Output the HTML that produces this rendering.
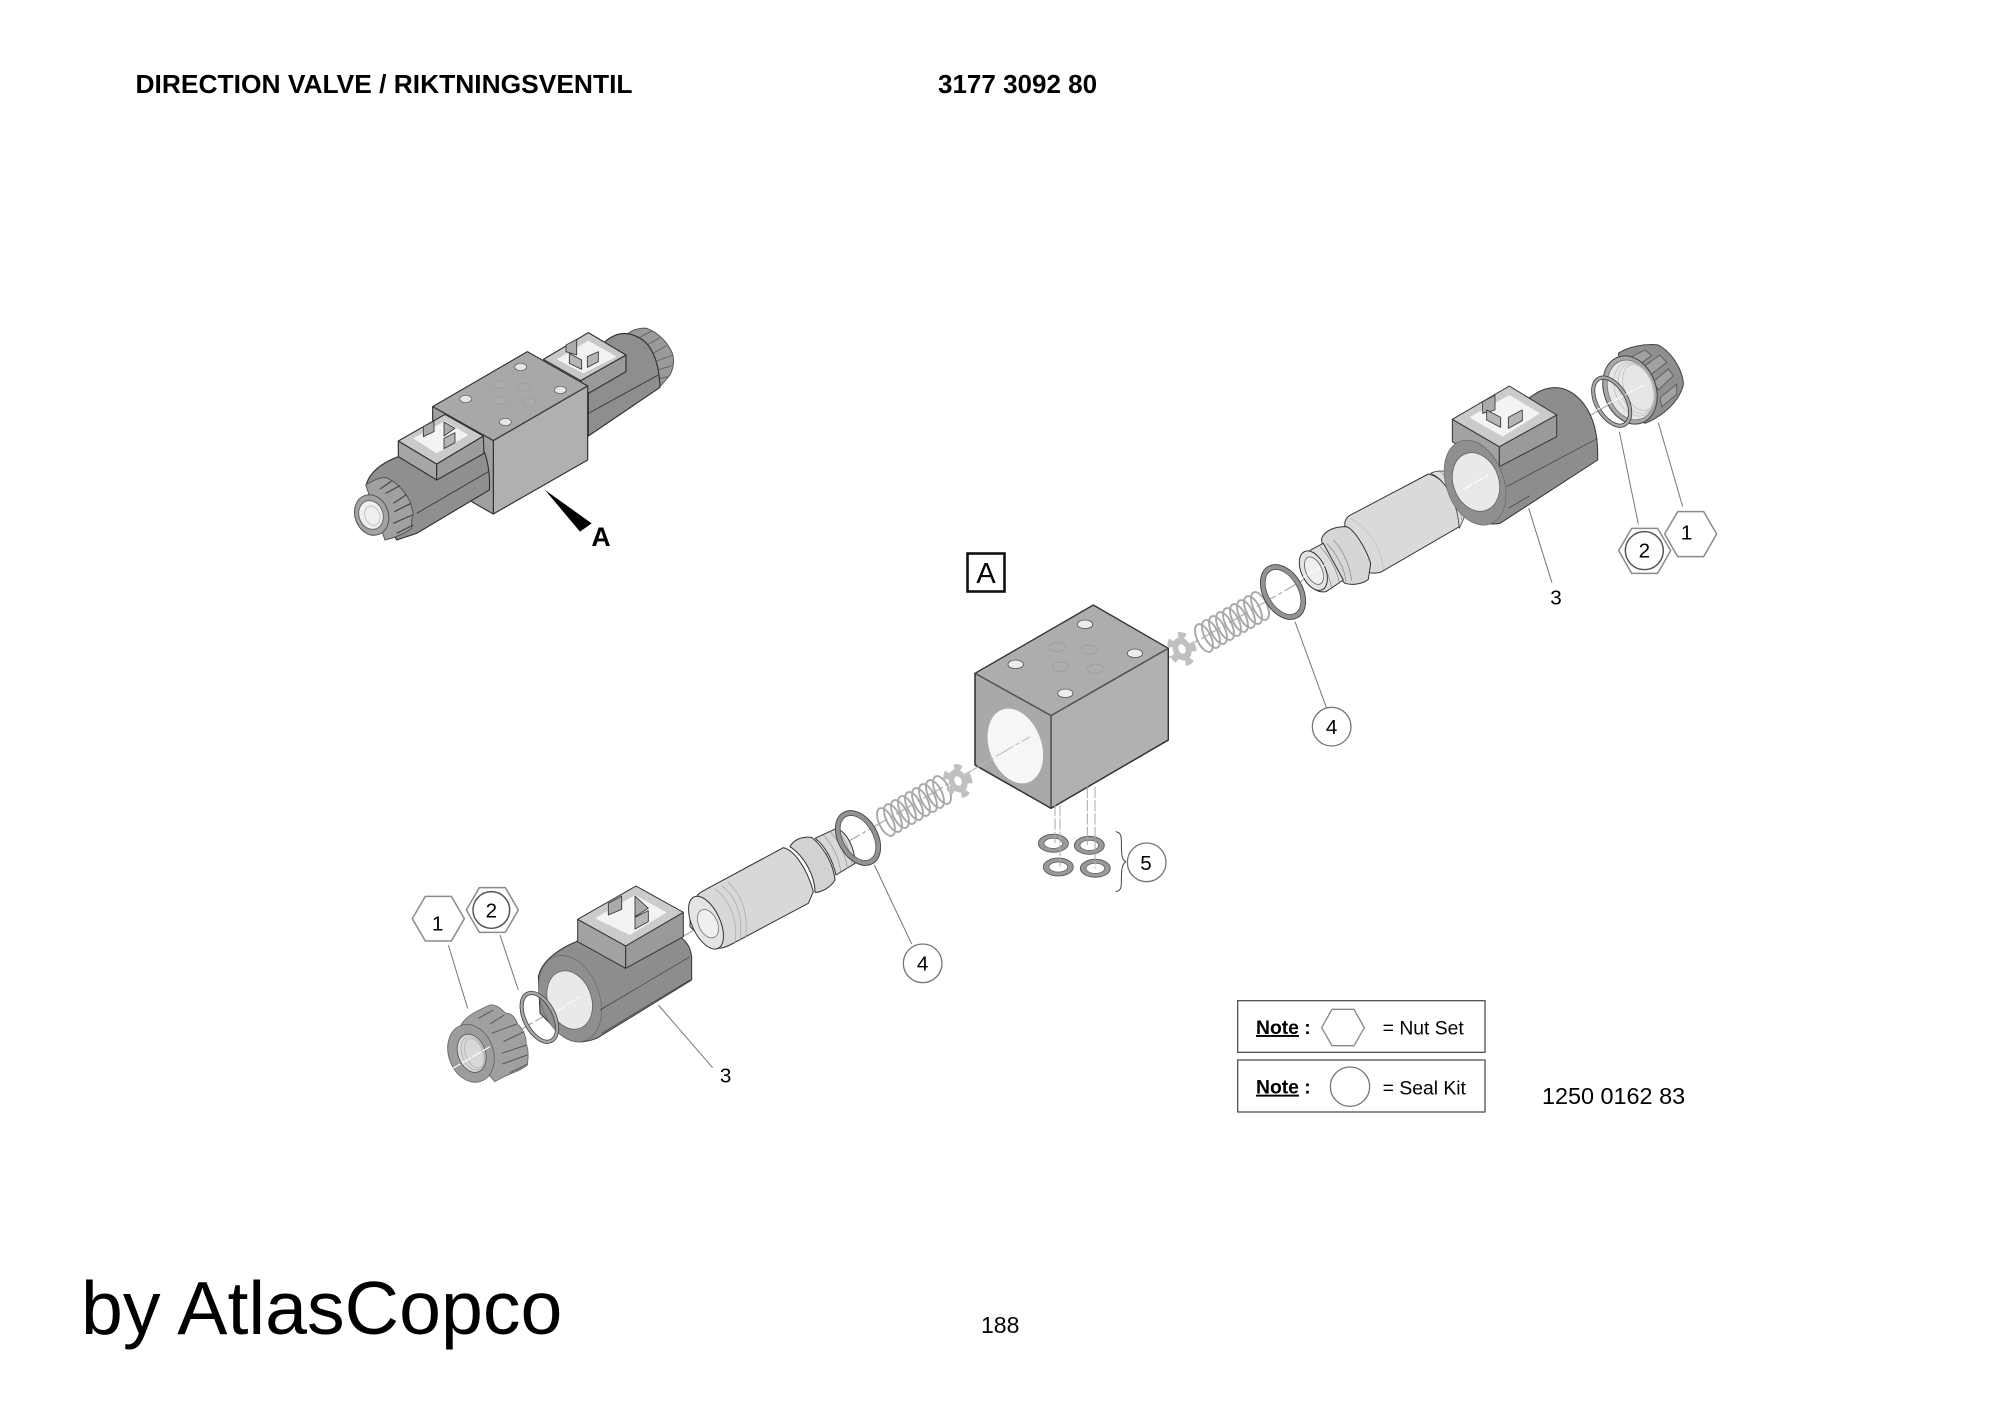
<!DOCTYPE html>
<html><head><meta charset="utf-8"><style>
html,body{margin:0;padding:0;background:#fff}
svg{display:block}
text{font-family:"Liberation Sans",sans-serif;fill:#000}
</style></head><body>
<svg width="2000" height="1414" viewBox="0 0 2000 1414" xmlns="http://www.w3.org/2000/svg">
<defs>
<g id="spring" fill="none" stroke="#a8a8a8" stroke-width="1.9">
<ellipse rx="7" ry="15" transform="translate(-28,16) rotate(-25)"/>
<ellipse rx="7" ry="15" transform="translate(-21,12) rotate(-25)"/>
<ellipse rx="7" ry="15" transform="translate(-14,8) rotate(-25)"/>
<ellipse rx="7" ry="15" transform="translate(-7,4) rotate(-25)"/>
<ellipse rx="7" ry="15" transform="rotate(-25)"/>
<ellipse rx="7" ry="15" transform="translate(7,-4) rotate(-25)"/>
<ellipse rx="7" ry="15" transform="translate(14,-8) rotate(-25)"/>
<ellipse rx="7" ry="15" transform="translate(21,-12) rotate(-25)"/>
<ellipse rx="7" ry="15" transform="translate(28,-16) rotate(-25)"/>
</g>
<g id="star">
<ellipse rx="9" ry="12" fill="#c0c0c0" transform="rotate(-25)"/>
<ellipse rx="10.5" ry="14" fill="none" stroke="#c0c0c0" stroke-width="7" stroke-dasharray="7 8" transform="rotate(-25)"/>
<ellipse rx="3.5" ry="5" fill="#fff" transform="rotate(-25)"/>
</g>
<g id="ring4">
<ellipse rx="17.5" ry="27" fill="none" stroke="#929292" stroke-width="5" transform="rotate(-30)"/>
<ellipse rx="19.8" ry="29.5" fill="none" stroke="#444" stroke-width=".9" transform="rotate(-30)"/>
<ellipse rx="15" ry="24.5" fill="none" stroke="#555" stroke-width=".8" transform="rotate(-30)"/>
</g>
</defs>

<!-- text -->
<text x="135.5" y="93" font-size="26" font-weight="bold" textLength="497" lengthAdjust="spacingAndGlyphs">DIRECTION VALVE / RIKTNINGSVENTIL</text>
<text x="938" y="93" font-size="26" font-weight="bold">3177 3092 80</text>
<text x="81" y="1334" font-size="75.3">by AtlasCopco</text>
<text x="986" y="1333" font-size="23" transform="translate(-5,0)">188</text>
<text x="1542" y="1104" font-size="23.4">1250 0162 83</text>

<!-- axis -->
<line x1="452" y1="1069" x2="1643" y2="385" stroke="#aaa" stroke-width="1.2" stroke-dasharray="22 3 4 3"/>

<!-- rear nut of assembled valve -->
<g transform="translate(625,325) scale(.33333)" stroke="#555" stroke-width="3">
<path d="M10,25C25,12 50,8 65,10C100,22 130,55 142,85C150,110 145,130 135,150L105,185Z" fill="#9a9a9a"/>
<path d="M42,38L80,18M62,62L105,38M78,88L125,62M88,110L140,92M98,135L140,122M103,160L130,155" fill="none" stroke="#666" stroke-width="3"/>
</g>

<!-- assembled valve -->
<g transform="translate(330,310) scale(.33333)" stroke="#333" stroke-width="3.5" stroke-linejoin="round">
<path d="M825,95C860,65 900,60 945,95C975,125 988,170 990,232L775,378V250Z" fill="#8e8e8e"/>
<line x1="775" y1="310" x2="985" y2="195" stroke-width="2.5"/>
<polygon points="888,135 888,185 775,250 752,212" fill="#9a9a9a"/>
<polygon points="640,148 775,68 888,135 752,212" fill="#c8c8c8"/>
<polygon points="680,148 775,92 860,140 760,190" fill="#f2f2f2" stroke="none"/>
<path d="M708,105L740,88V135L708,125Z" fill="#aaa" stroke-width="2.5"/>
<path d="M718,130L755,150V178L718,160Z" fill="#b5b5b5" stroke-width="2.5"/>
<path d="M772,140L805,125V155L772,172Z" fill="#b5b5b5" stroke-width="2.5"/>
<polygon points="308,290 592,125 773,228 490,392" fill="#a8a8a8"/>
<polygon points="490,392 773,228 773,450 490,612" fill="#b0b0b0"/>
<polygon points="308,290 490,392 490,612 430,578 308,500" fill="#a0a0a0"/>
<g stroke="#999" stroke-width="2" fill="#aaa">
<ellipse cx="507" cy="223" rx="19" ry="12"/><ellipse cx="583" cy="232" rx="19" ry="12"/>
<ellipse cx="514" cy="271" rx="19" ry="12"/><ellipse cx="598" cy="278" rx="19" ry="12"/></g>
<g stroke="#555" stroke-width="2" fill="#e6e6e6">
<ellipse cx="572" cy="171" rx="18" ry="11"/><ellipse cx="407" cy="267" rx="18" ry="11"/>
<ellipse cx="691" cy="240" rx="18" ry="11"/><ellipse cx="526" cy="336" rx="18" ry="11"/></g>
<path d="M205,440C150,460 120,490 110,520L200,690L260,670L478,540C482,490 470,440 460,420L320,420Z" fill="#8f8f8f"/>
<line x1="260" y1="610" x2="475" y2="485" stroke-width="2.5"/>
<polygon points="205,393 205,440 320,510 320,462" fill="#a6a6a6"/>
<polygon points="320,462 320,510 462,430 460,378" fill="#9c9c9c"/>
<polygon points="205,393 345,313 460,378 320,462" fill="#cacaca"/>
<polygon points="250,385 345,333 415,375 320,430" fill="#f3f3f3" stroke="none"/>
<path d="M280,350L312,333V365L280,380Z" fill="#aaa" stroke-width="2.5"/>
<path d="M342,336L375,355L342,378V355Z" fill="#aaa" stroke-width="2.5"/>
<path d="M342,385L375,368V398L342,416Z" fill="#b5b5b5" stroke-width="2.5"/>
<polygon points="645,540 785,640 750,665" fill="#000" stroke="none"/>
<text x="813" y="708" font-size="80" font-weight="bold" text-anchor="middle" stroke="none">A</text>
</g>
<!-- front nut of assembled valve -->
<g transform="translate(345,465) scale(.33333)" stroke="#555" stroke-width="3">
<path d="M62,60C85,45 110,35 125,38C150,50 175,70 195,110L205,145L200,165V190C180,205 150,218 120,225Z" fill="#a0a0a0"/>
<path d="M105,72L140,48M122,85L165,62M145,115L185,88M148,140L198,115M145,175L202,150M155,205L205,180" fill="none" stroke="#444" stroke-width="3.5"/>
<ellipse cx="80" cy="150" rx="50" ry="62" transform="rotate(-20 80 150)" fill="#a2a2a2"/>
<ellipse cx="78" cy="150" rx="36" ry="44" transform="rotate(-20 78 150)" fill="#efefef" stroke="#666"/>
<ellipse cx="82" cy="152" rx="22" ry="30" transform="rotate(-20 82 152)" fill="none" stroke="#bbb" stroke-width="2.5"/>
</g>

<!-- A box -->
<rect x="967.5" y="553.5" width="37" height="38" fill="none" stroke="#111" stroke-width="2.6"/>
<text x="986" y="583" font-size="29" text-anchor="middle">A</text>

<!-- main block -->
<g transform="translate(950,540) scale(.33333)" stroke="#333" stroke-width="4" stroke-linejoin="round">
<polygon points="75,400 430,195 655,325 303,527" fill="#adadad"/>
<polygon points="303,527 655,325 655,600 303,805" fill="#b1b1b1"/>
<polygon points="75,400 303,527 303,805 75,675" fill="#a9a9a9"/>
<line x1="75" y1="400" x2="303" y2="527" stroke="#666" stroke-width="2"/>
<line x1="303" y1="527" x2="655" y2="325" stroke="#666" stroke-width="2"/>
<line x1="303" y1="527" x2="303" y2="805" stroke="#666" stroke-width="2"/>
<ellipse cx="196" cy="618" rx="78" ry="116" transform="rotate(-20 196 618)" fill="#f6f6f6" stroke="none"/>
<path d="M75,675L303,805L655,600V325" fill="none"/>
<line x1="75" y1="400" x2="75" y2="675"/>
<line x1="60" y1="695" x2="240" y2="590" stroke="#bbb" stroke-width="3" stroke-dasharray="60 8 14 8"/>
<g stroke="#999" stroke-width="2" fill="none">
<ellipse cx="322" cy="321" rx="24" ry="14"/><ellipse cx="418" cy="329" rx="24" ry="14"/>
<ellipse cx="331" cy="380" rx="24" ry="14"/><ellipse cx="436" cy="386" rx="24" ry="14"/></g>
<g stroke="#555" stroke-width="2.5" fill="#ececec">
<ellipse cx="405" cy="253" rx="23" ry="13"/><ellipse cx="197" cy="373" rx="23" ry="13"/>
<ellipse cx="555" cy="340" rx="23" ry="13"/><ellipse cx="346" cy="460" rx="23" ry="13"/></g>
<line x1="1035" y1="245" x2="1130" y2="505" stroke="#777" stroke-width="3"/>
<circle cx="1145" cy="560" r="58" fill="#fff" stroke="#777" stroke-width="4"/>
<text x="1145" y="582" font-size="62" text-anchor="middle" stroke="none">4</text>
</g>

<use href="#spring" x="1232" y="622"/>
<use href="#star" x="1182" y="649"/>
<use href="#ring4" x="1283" y="592"/>
<use href="#spring" x="914" y="806"/>
<use href="#star" x="958" y="781"/>

<!-- right nut -->
<g transform="translate(1595,335) scale(.33333)" stroke="#444" stroke-width="3">
<path d="M70,55C100,35 150,25 190,30C235,55 265,110 265,150C250,205 200,245 150,265L100,240Z" fill="#8f8f8f"/>
<path d="M110,65L150,45L170,62L130,90ZM150,92L195,60L215,82L170,117ZM175,140L220,102L235,122L190,165ZM195,188L245,148V178L200,215Z" fill="#a2a2a2" stroke="#555" stroke-width="2.5"/>
<ellipse cx="105" cy="165" rx="78" ry="105" transform="rotate(-20 105 165)" fill="#a8a8a8"/>
<ellipse cx="108" cy="165" rx="68" ry="92" transform="rotate(-20 108 165)" fill="#e6e6e6" stroke="#777" stroke-width="2.5"/>
<g fill="none" stroke="#bbb" stroke-width="2">
<ellipse cx="118" cy="162" rx="58" ry="84" transform="rotate(-20 118 162)"/>
<ellipse cx="124" cy="160" rx="50" ry="78" transform="rotate(-20 124 160)"/>
<ellipse cx="130" cy="158" rx="42" ry="72" transform="rotate(-20 130 158)"/>
</g>
</g>

<!-- right side parts -->
<g transform="translate(1300,330) scale(.33333)" stroke="#333" stroke-width="3" stroke-linejoin="round">
<path d="M135,575C140,560 150,555 165,548L385,432C430,440 470,500 478,590L245,725C235,730 215,730 210,728C170,700 130,630 135,575Z" fill="#dadada"/>
<path d="M392,430C410,420 440,422 455,430C480,450 500,500 498,550L478,595C470,500 430,445 392,430Z" fill="#dedede" stroke="#444" stroke-width="2.5"/>
<path d="M420,425C450,450 475,500 485,570" fill="none" stroke="#999" stroke-width="2"/>
<path d="M150,565C200,590 245,650 250,720" fill="none" stroke="#bbb" stroke-width="2"/>
<path d="M65,625C75,600 105,590 140,590C165,600 200,660 212,700L205,748C185,765 150,765 135,760C100,730 65,670 65,625Z" fill="#d6d6d6"/>
<path d="M5,690C10,670 30,660 70,640L130,750L78,785C50,790 30,770 20,750Z" fill="#dedede"/>
<path d="M60,650C90,680 115,730 118,762M80,640C110,670 135,720 138,755M40,665C70,690 90,740 95,778M100,630C130,660 150,710 155,752" stroke="#888" stroke-width="2.2" fill="none"/>
<ellipse cx="40" cy="722" rx="36" ry="63" transform="rotate(-25 40 722)" fill="#e4e4e4"/>
<ellipse cx="42" cy="722" rx="24" ry="44" transform="rotate(-25 42 722)" fill="#efefef" stroke="#666" stroke-width="2.5"/>
<line x1="0" y1="747" x2="75" y2="705" stroke="#fff" stroke-width="3" stroke-dasharray="20 5"/>
<path d="M700,195C750,160 805,165 850,220C880,260 895,310 893,390L600,580C540,590 500,560 490,520L440,420L490,332Z" fill="#8d8d8d"/>
<polygon points="457,268 457,335 598,420 598,350" fill="#a2a2a2"/>
<polygon points="598,350 770,255 770,320 598,410" fill="#9a9a9a"/>
<polygon points="457,268 628,168 770,255 598,350" fill="#cbcbcb"/>
<polygon points="508,262 628,195 720,250 608,320" fill="#f3f3f3" stroke="none"/>
<path d="M548,215L585,195V240L548,250Z" fill="#aaa" stroke-width="2.5"/>
<path d="M560,240L602,262V292L560,270Z" fill="#b5b5b5" stroke-width="2.5"/>
<path d="M625,262L667,240V272L625,295Z" fill="#b5b5b5" stroke-width="2.5"/>
<ellipse cx="525" cy="458" rx="86" ry="132" transform="rotate(-20 525 458)" fill="#8f8f8f" stroke="#666" stroke-width="2"/>
<ellipse cx="528" cy="456" rx="68" ry="90" transform="rotate(-20 528 456)" fill="#e9e9e9" stroke="#555" stroke-width="2"/>
<path d="M620,470L893,325M625,535L690,497" stroke="#444" stroke-width="2.2" fill="none"/>
<line x1="490" y1="478" x2="565" y2="435" stroke="#fff" stroke-width="3" stroke-dasharray="30 6"/>
<ellipse cx="935" cy="215" rx="45" ry="79" transform="rotate(-30 935 215)" fill="none" stroke="#a8a8a8" stroke-width="10"/>
<ellipse cx="935" cy="215" rx="50" ry="84" transform="rotate(-30 935 215)" fill="none" stroke="#444" stroke-width="2.5"/>
<ellipse cx="935" cy="215" rx="40" ry="74" transform="rotate(-30 935 215)" fill="none" stroke="#444" stroke-width="2.5"/>
<line x1="880" y1="245" x2="1030" y2="165" stroke="#fff" stroke-width="3" stroke-dasharray="30 6"/>
<g stroke="#777" stroke-width="3" fill="none">
<line x1="686" y1="535" x2="756" y2="758"/>
<line x1="958" y1="305" x2="1015" y2="582"/>
<line x1="1075" y1="278" x2="1148" y2="530"/>
</g>
<g fill="#fff" stroke="#8a8a8a" stroke-width="4.5">
<polygon points="1094,612 1133,545 1211,545 1250,612 1211,680 1133,680"/>
<polygon points="956,662 995,595 1073,595 1112,662 1073,730 995,730"/>
<circle cx="1033" cy="662" r="57" stroke="#555"/>
</g>
<g font-size="62" text-anchor="middle" stroke="none">
<text x="1160" y="629">1</text><text x="1033" y="682">2</text><text x="768" y="823">3</text>
</g>
</g>

<!-- left cylinder, ring, washers -->
<g transform="translate(680,740) scale(.33333)" stroke="#333" stroke-width="3" stroke-linejoin="round">
<path d="M405,295L470,265C505,280 525,330 525,370L468,405C460,370 440,320 405,295Z" fill="#d8d8d8"/>
<path d="M430,285C455,310 478,355 482,395M450,275C475,300 498,345 502,385M470,268C495,295 512,335 516,372" stroke="#999" stroke-width="2.2" fill="none"/>
<path d="M330,320C340,300 365,288 395,292C430,320 460,370 465,420C450,445 420,458 405,457C405,410 375,350 330,320Z" fill="#d2d2d2"/>
<path d="M65,455L310,323C340,330 380,380 400,455L385,490L150,615C120,630 100,625 95,620L30,560C30,510 40,470 65,455Z" fill="#d8d8d8"/>
<path d="M105,447C150,480 175,540 165,610M125,437C170,470 190,530 180,603M143,427C185,460 205,520 197,595" stroke="#aaa" stroke-width="2.2" fill="none"/>
<ellipse cx="78" cy="548" rx="42" ry="85" transform="rotate(-25 78 548)" fill="#e4e4e4"/>
<ellipse cx="84" cy="551" rx="28" ry="45" transform="rotate(-25 84 551)" fill="#efefef" stroke="#666" stroke-width="2.2"/>
<line x1="583" y1="375" x2="695" y2="612" stroke="#777" stroke-width="3"/>
<circle cx="728" cy="670" r="58" fill="#fff" stroke="#777" stroke-width="4"/>
<text x="728" y="692" font-size="62" text-anchor="middle" stroke="none">4</text>
<g stroke="#555" stroke-width="2.5" fill="#999">
<ellipse cx="1120" cy="310" rx="45" ry="27"/><ellipse cx="1228" cy="316" rx="45" ry="27"/>
<ellipse cx="1135" cy="381" rx="45" ry="27"/><ellipse cx="1246" cy="385" rx="45" ry="27"/>
</g>
<g stroke="#555" stroke-width="2" fill="#fff">
<ellipse cx="1120" cy="310" rx="28" ry="15"/><ellipse cx="1228" cy="316" rx="28" ry="15"/>
<ellipse cx="1135" cy="381" rx="28" ry="15"/><ellipse cx="1246" cy="385" rx="28" ry="15"/>
</g>
<g stroke="#aaa" stroke-width="3" stroke-dasharray="34 6" fill="none">
<line x1="1125" y1="195" x2="1125" y2="315"/><line x1="1140" y1="195" x2="1140" y2="380"/>
<line x1="1222" y1="140" x2="1222" y2="315"/><line x1="1245" y1="140" x2="1245" y2="385"/>
</g>
<path d="M1307,275C1330,280 1322,295 1325,340C1326,355 1330,362 1337,365C1330,370 1326,378 1325,395C1322,435 1330,450 1307,455" fill="none" stroke="#444" stroke-width="3"/>
<circle cx="1400" cy="367" r="58" fill="#fff" stroke="#777" stroke-width="4"/>
<text x="1398" y="390" font-size="62" text-anchor="middle" stroke="none">5</text>
</g>
<use href="#ring4" x="858" y="838"/>

<!-- left coil, ring -->
<g transform="translate(400,880) scale(.33333)" stroke="#333" stroke-width="3" stroke-linejoin="round">
<path d="M533,183C480,205 425,240 415,290L420,400L490,470C520,490 550,490 590,475L875,300V230C870,190 850,170 800,150Z" fill="#8d8d8d"/>
<polygon points="533,118 533,185 677,265 677,198" fill="#a2a2a2"/>
<polygon points="677,198 850,97 850,170 677,265" fill="#9a9a9a"/>
<polygon points="533,118 708,18 850,97 677,198" fill="#cbcbcb"/>
<polygon points="585,115 705,45 800,97 690,165" fill="#f3f3f3" stroke="none"/>
<path d="M625,70L665,48V88L625,105Z" fill="#aaa" stroke-width="2.5"/>
<path d="M705,48L745,85L705,110Z" fill="#aaa" stroke-width="2.5"/>
<path d="M705,112L745,92V125L705,147Z" fill="#b5b5b5" stroke-width="2.5"/>
<ellipse cx="510" cy="356" rx="88" ry="134" transform="rotate(-20 510 356)" fill="#8f8f8f" stroke="#666" stroke-width="2"/>
<ellipse cx="509" cy="360" rx="65" ry="90" transform="rotate(-20 509 360)" fill="#e9e9e9" stroke="#555" stroke-width="2"/>
<path d="M600,390L870,230M605,460L870,300" stroke="#444" stroke-width="2.2" fill="none"/>
<line x1="470" y1="395" x2="540" y2="350" stroke="#fff" stroke-width="3" stroke-dasharray="30 6"/>
<ellipse cx="418" cy="412" rx="44" ry="79" transform="rotate(-27 418 412)" fill="none" stroke="#a8a8a8" stroke-width="10"/>
<ellipse cx="418" cy="412" rx="49" ry="84" transform="rotate(-27 418 412)" fill="none" stroke="#444" stroke-width="2.5"/>
<ellipse cx="418" cy="412" rx="39" ry="74" transform="rotate(-27 418 412)" fill="none" stroke="#444" stroke-width="2.5"/>
<g stroke="#777" stroke-width="3" fill="none">
<line x1="145" y1="195" x2="203" y2="385"/>
<line x1="300" y1="165" x2="355" y2="330"/>
<line x1="775" y1="375" x2="938" y2="563"/>
</g>
<g fill="#fff" stroke="#8a8a8a" stroke-width="4.5">
<polygon points="37,116 76,49 154,49 193,116 154,183 76,183"/>
<polygon points="199,90 238,23 316,23 355,90 316,157 238,157"/>
<circle cx="274" cy="90" r="55" stroke="#555"/>
</g>
<g font-size="62" text-anchor="middle" stroke="none">
<text x="113" y="152">1</text><text x="274" y="112">2</text><text x="977" y="607">3</text>
</g>
</g>

<!-- left nut -->
<g transform="translate(445,1000) scale(.33333)" stroke="#666" stroke-width="2.5">
<path d="M45,80C60,50 90,35 135,15C155,12 170,28 182,40C200,38 212,55 218,72C232,85 245,110 243,130C252,150 250,175 247,195C225,215 190,220 150,245L70,160Z" fill="#a0a0a0"/>
<path d="M100,55L145,30M135,72L178,45M140,100L215,72M175,125L238,95M170,160L245,135M172,192L247,165M195,218L248,192" fill="none" stroke="#555" stroke-width="3"/>
<ellipse cx="78" cy="160" rx="67" ry="89" transform="rotate(-20 78 160)" fill="#9c9c9c"/>
<ellipse cx="80" cy="160" rx="41" ry="59" transform="rotate(-20 80 160)" fill="#d8d8d8" stroke="#555"/>
<g fill="none" stroke="#aaa" stroke-width="2">
<ellipse cx="84" cy="160" rx="33" ry="52" transform="rotate(-20 84 160)"/>
<ellipse cx="88" cy="160" rx="26" ry="46" transform="rotate(-20 88 160)"/>
</g>
<line x1="20" y1="207" x2="135" y2="140" stroke="#fff" stroke-width="3.5" stroke-dasharray="30 6"/>
</g>

<!-- notes -->
<g transform="translate(1220,990) scale(.33333)">
<rect x="53" y="32" width="742" height="155" fill="#fff" stroke="#555" stroke-width="4"/>
<rect x="53" y="210" width="742" height="156" fill="#fff" stroke="#555" stroke-width="4"/>
<polygon points="305,113 336,58 402,58 433,113 402,167 336,167" fill="#fff" stroke="#888" stroke-width="4"/>
<circle cx="390" cy="290" r="59" fill="#fff" stroke="#777" stroke-width="4"/>
<g font-size="58">
<text x="108" y="132" font-weight="bold"><tspan text-decoration="underline">Note</tspan> :</text>
<text x="108" y="311" font-weight="bold"><tspan text-decoration="underline">Note</tspan> :</text>
<text x="488" y="134">= Nut Set</text>
<text x="488" y="313">= Seal Kit</text>
</g>
</g>
</svg>
</body></html>
